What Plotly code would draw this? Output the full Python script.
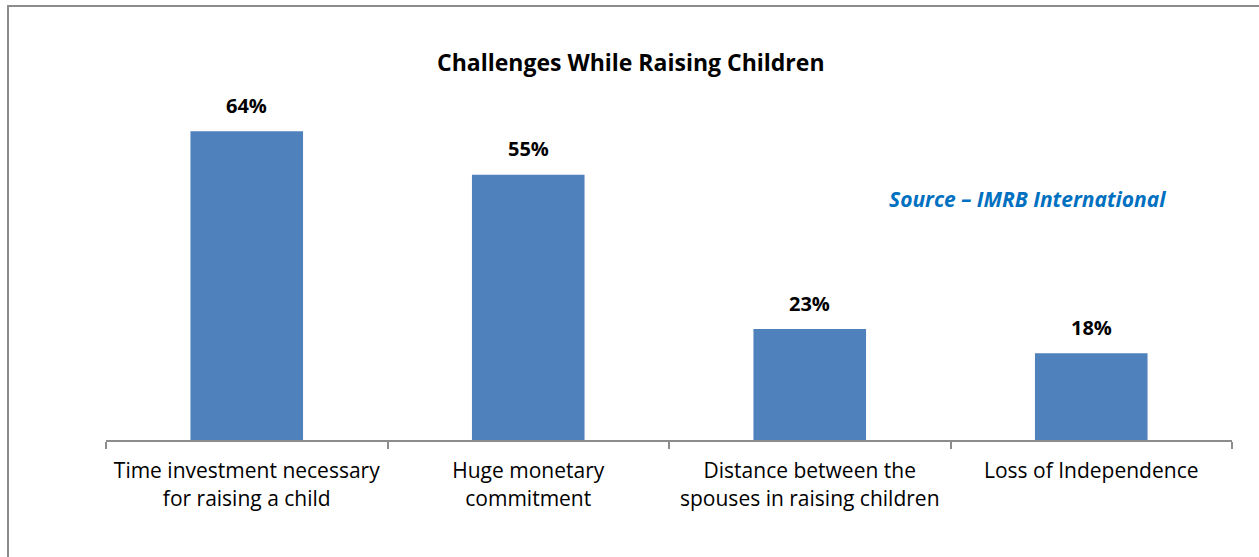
import plotly.graph_objects as go

# Survey results
categories = [
    "Time investment necessary<br>for raising a child",
    "Huge monetary<br>commitment",
    "Distance between the<br>spouses in raising children",
    "Loss of Independence",
]
values = [64, 55, 23, 18]
value_labels = [f"{v}%" for v in values]

W, H = 1259, 557
ML, MR, MT, MB = 106, 27, 54, 117
plot_w = W - ML - MR
plot_h = H - MT - MB

def px_to_paper_x(px):
    return (px - ML) / plot_w

def px_to_paper_y(py):
    return (H - MB - py) / plot_h

fig = go.Figure(
    go.Bar(
        x=categories,
        y=values,
        marker=dict(color="#4F81BD", line=dict(width=0)),
        width=0.4,
        hoverinfo="x+y",
    )
)

# Value labels above each bar
for cat, val, lab in zip(categories, values, value_labels):
    fig.add_annotation(
        x=cat, y=val, text=lab,
        showarrow=False, xanchor="center", yanchor="middle", yshift=26,
        font=dict(family="Open Sans", size=20, color="#000000", weight="bold"),
    )

# Outer chart frame (left and top edges)
fig.add_shape(
    type="path",
    xref="paper", yref="paper",
    path=(
        f"M {px_to_paper_x(8)} {px_to_paper_y(H + 5)} "
        f"L {px_to_paper_x(8)} {px_to_paper_y(6)} "
        f"L {px_to_paper_x(W + 5)} {px_to_paper_y(6)}"
    ),
    line=dict(color="#8C8C8C", width=2),
)

fig.add_annotation(
    text="Challenges While Raising Children",
    xref="paper", yref="paper",
    x=px_to_paper_x(631), y=px_to_paper_y(62),
    xanchor="center", yanchor="middle",
    showarrow=False,
    font=dict(family="Open Sans", size=23, color="#000000", weight="bold"),
)

fig.add_annotation(
    text="<i>Source – IMRB International</i>",
    xref="paper", yref="paper",
    x=px_to_paper_x(1027), y=px_to_paper_y(199),
    xanchor="center", yanchor="middle",
    showarrow=False,
    font=dict(family="Open Sans", size=21, color="#0070C0", weight="bold"),
)

fig.update_layout(
    width=W, height=H,
    margin=dict(l=ML, r=MR, t=MT, b=MB, pad=0),
    paper_bgcolor="#FFFFFF",
    plot_bgcolor="#FFFFFF",
    showlegend=False,
    xaxis=dict(
        showline=True, linecolor="#8C8C8C", linewidth=2,
        ticks="outside", tickson="boundaries", ticklen=7, tickwidth=2,
        tickcolor="#8C8C8C",
        ticklabelstandoff=11,
        tickfont=dict(family="Open Sans", size=21, color="#000000"),
        showgrid=False, zeroline=False,
    ),
    yaxis=dict(
        range=[0, 80], visible=False, showgrid=False, zeroline=False,
    ),
)

fig.write_html("out.html")
